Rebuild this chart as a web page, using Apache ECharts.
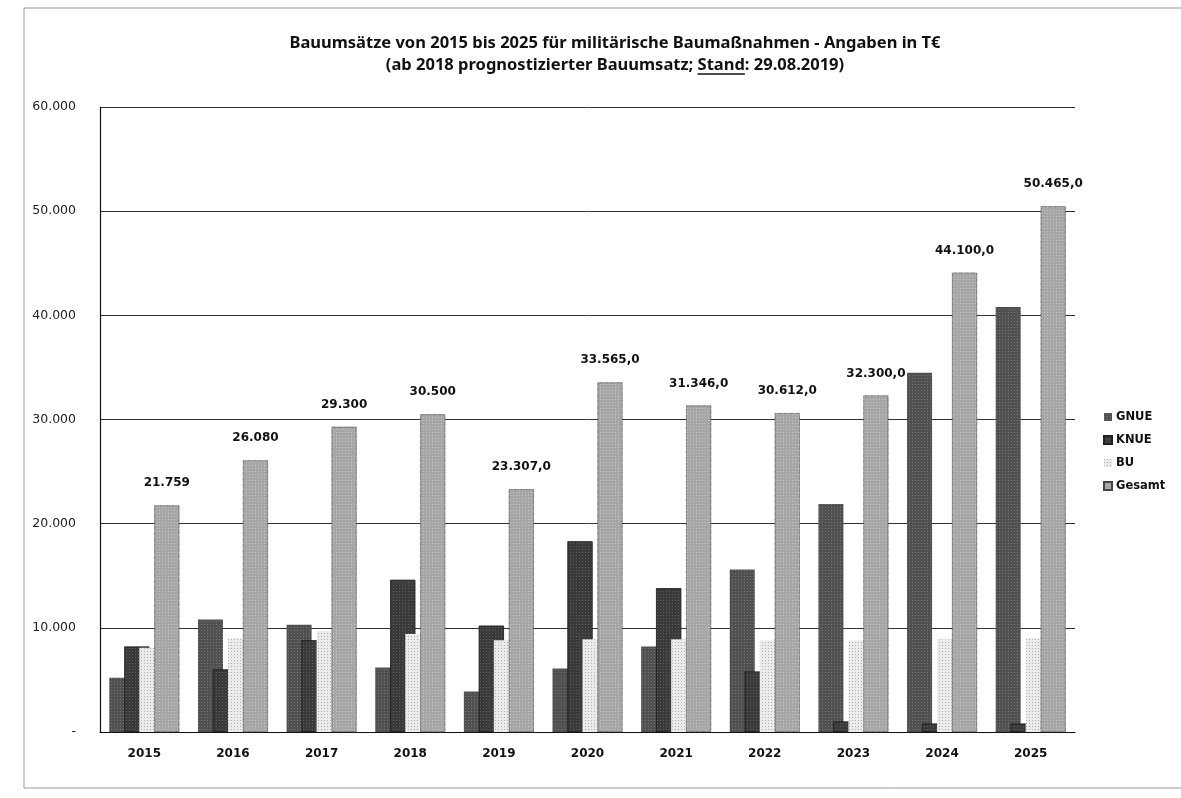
<!DOCTYPE html>
<html>
<head>
<meta charset="utf-8">
<script src="https://cdn.jsdelivr.net/npm/echarts@6/dist/echarts.min.js"></script>
<style>
html,body{margin:0;padding:0;background:#fff;}
#chart{width:1181px;height:798px;}
</style>
</head>
<body>
<div id="chart"></div>
<script>
const years = ['2015','2016','2017','2018','2019','2020','2021','2022','2023','2024','2025'];
const gnue = [5200, 10800, 10300, 6200, 3900, 6100, 8200, 15600, 21900, 34500, 40800];
const knue = [8200, 6000, 8800, 14600, 10200, 18300, 13800, 5800, 1000, 800, 800];
const bu = [8100, 9000, 9700, 9400, 8800, 8900, 8900, 8800, 8800, 8900, 9000];
const gesamt = [21759, 26080, 29300, 30500, 23307, 33565, 31346, 30612, 32300, 44100, 50465];
const gesamtDecimals = [0, 0, 0, 0, 1, 1, 1, 1, 1, 1, 1];
const titleLine1 = 'Bauumsätze von 2015 bis 2025 für militärische Baumaßnahmen - Angaben in T€';
const titleLine2Pre = '(ab 2018 prognostizierter Bauumsatz; ';
const titleLine2Und = 'Stand';
const titleLine2Post = ': 29.08.2019)';

function de(v, dec) {
  const parts = v.toFixed(dec).split('.');
  const intPart = parts[0].replace(/\B(?=(\d{3})+(?!\d))/g, '.');
  return dec > 0 ? intPart + ',' + parts[1] : intPart;
}

const chart = echarts.init(document.getElementById('chart'));
const barW = 25;
const gap = '-40%';
const textFont = 'DejaVu Sans';
const titleFont = 'bold 16.5px "Noto Sans"';
const titleX = 615;
const title1Y = 43;
const title2Y = 65;

// measure for underline of "Stand"
const cv = document.createElement('canvas').getContext('2d');
cv.font = titleFont;
const line2 = titleLine2Pre + titleLine2Und + titleLine2Post;
const w2 = cv.measureText(line2).width;
const wPre = cv.measureText(titleLine2Pre).width;
const wUnd = cv.measureText(titleLine2Und).width;
const ulX = titleX - w2 / 2 + wPre;

function mkDecal(col) {
  return { symbol: 'rect', symbolSize: 1, dashArrayX: [1, 2], dashArrayY: [1, 2], color: col };
}

chart.setOption({
  backgroundColor: '#fff',
  animation: false,
  legend: {
    orient: 'vertical',
    left: 1098,
    top: 406,
    itemWidth: 8,
    itemHeight: 8,
    itemGap: 11,
    icon: 'rect',
    data: ['GNUE', 'KNUE', 'BU', 'Gesamt'],
    textStyle: { fontFamily: textFont, fontWeight: 'bold', fontSize: 11.5, color: '#111', padding: [0, 0, 0, -1] }
  },
  grid: { left: 100, right: 106, top: 107, bottom: 66 },
  xAxis: {
    type: 'category',
    data: years,
    axisLine: { lineStyle: { color: '#111', width: 1.2 } },
    axisTick: { show: false },
    axisLabel: { fontFamily: textFont, fontWeight: 'bold', fontSize: 12, color: '#111', margin: 16 }
  },
  yAxis: {
    type: 'value',
    min: 0,
    max: 60000,
    interval: 10000,
    axisLine: { show: true, lineStyle: { color: '#111', width: 1.2 } },
    axisTick: { show: false },
    splitLine: { lineStyle: { color: '#333', width: 1 } },
    axisLabel: {
      fontFamily: textFont, fontSize: 12.5, color: '#222', margin: 24,
      formatter: function (v) { return v === 0 ? '-' : de(v, 0); }
    }
  },
  series: [
    {
      name: 'GNUE', type: 'bar', data: gnue, barWidth: barW, barGap: gap,
      itemStyle: { color: '#505050', decal: mkDecal('rgba(255,255,255,0.22)') }
    },
    {
      name: 'KNUE', type: 'bar', data: knue, barWidth: barW, barGap: gap,
      itemStyle: { color: '#3a3a3a', borderColor: '#1e1e1e', borderWidth: 0.6, decal: mkDecal('rgba(255,255,255,0.18)') }
    },
    {
      name: 'BU', type: 'bar', data: bu, barWidth: barW, barGap: gap,
      itemStyle: { color: '#ebebeb', decal: mkDecal('rgba(0,0,0,0.25)') }
    },
    {
      name: 'Gesamt', type: 'bar', data: gesamt, barWidth: barW, barGap: gap,
      itemStyle: { color: '#a6a6a6', borderColor: '#444', borderWidth: 0.6, borderType: 'dotted', decal: mkDecal('rgba(255,255,255,0.35)') },
      label: {
        show: true, position: 'top', distance: 16,
        fontFamily: textFont, fontWeight: 'bold', fontSize: 12, color: '#111',
        formatter: function (p) { return de(p.value, gesamtDecimals[p.dataIndex]); }
      }
    }
  ],
  graphic: [
    { type: 'rect', shape: { x: 24, y: 8, width: 1170, height: 780 }, style: { fill: 'none', stroke: '#999', lineWidth: 1 }, silent: true },
    { type: 'text', x: titleX, y: title1Y, style: { text: titleLine1, font: titleFont, fill: '#111', textAlign: 'center', textVerticalAlign: 'middle' }, silent: true },
    { type: 'text', x: titleX, y: title2Y, style: { text: line2, font: titleFont, fill: '#111', textAlign: 'center', textVerticalAlign: 'middle' }, silent: true },
    { type: 'line', shape: { x1: ulX, y1: title2Y + 9, x2: ulX + wUnd, y2: title2Y + 9 }, style: { stroke: '#111', lineWidth: 1.3 }, silent: true }
  ]
});
</script>
</body>
</html>
